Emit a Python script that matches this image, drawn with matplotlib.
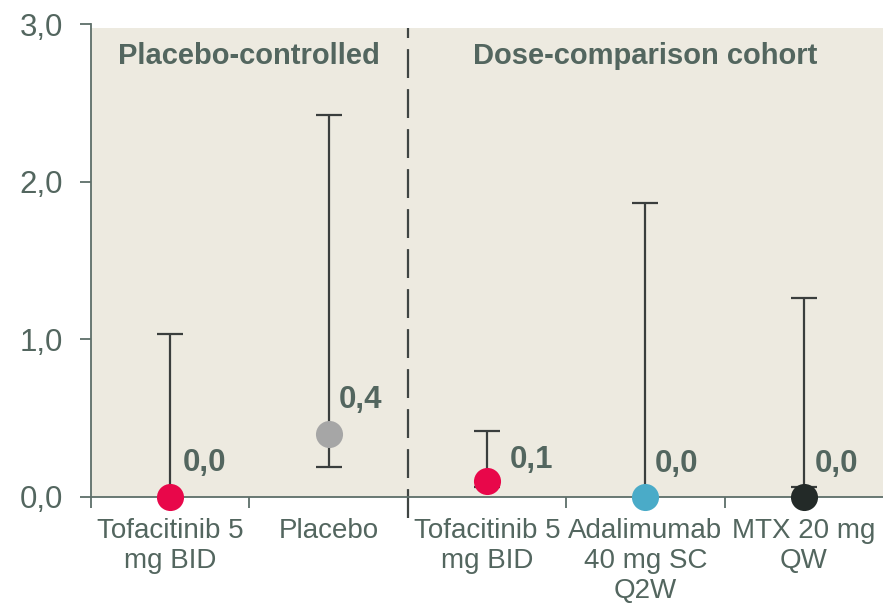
import matplotlib
matplotlib.use("Agg")
import matplotlib.pyplot as plt
from matplotlib.patches import Rectangle

plt.rcParams['font.family'] = ['Liberation Sans', 'DejaVu Sans']

# treatment arms and their point estimates with 95% CI
arms = ["Tofacitinib 5\nmg BID", "Placebo", "Tofacitinib 5\nmg BID",
        "Adalimumab\n40 mg SC\nQ2W", "MTX 20 mg\nQW"]
values = [0.0, 0.4, 0.1, 0.0, 0.0]
ci_low = [0.0, 0.19, 0.065, 0.0, 0.065]
ci_high = [1.034, 2.42, 0.42, 1.864, 1.262]
value_labels = ["0,0", "0,4", "0,1", "0,0", "0,0"]
dot_colors = ["#E8074A", "#A6A6A6", "#E8074A", "#4AABC8", "#232A28"]
groups = ["Placebo-controlled", "Dose-comparison cohort"]
yticks = [0, 1, 2, 3]
ytick_labels = ["0,0", "1,0", "2,0", "3,0"]

# per-label pixel offsets from the dot
label_offsets = [(13, 26), (10, 26), (23, 13), (9, 25), (11, 25)]

txt = "#53665F"
axis_col = "#5D6E69"
bar_col = "#3A3E3D"

fig = plt.figure(figsize=(8.83, 6.05), dpi=100)
ax = fig.add_axes([91 / 883, 1 - 497 / 605, 1 - 91 / 883, (497 - 24) / 605])
ax.set_facecolor("white")
ax.set_xlim(-0.5, 4.5)
ax.set_ylim(0, 3)

ax.add_patch(Rectangle((-0.5, 0), 5, 2.975, facecolor="#EDEAE0",
                       edgecolor="none", zorder=0))

x = list(range(len(arms)))
for i in x:
    # interval line with caps at both ends
    ax.plot([i, i], [ci_low[i], ci_high[i]], color=bar_col, lw=1.6,
            zorder=3, solid_capstyle="butt")
    caps = [ci_high[i]] if ci_low[i] == values[i] else [ci_low[i], ci_high[i]]
    ax.plot([i] * len(caps), caps, ls="none", marker="_", ms=19,
            mew=1.6, color=bar_col, zorder=3)
    ax.plot(i, values[i], "o", ms=19.5, color=dot_colors[i],
            mec="none", zorder=4, clip_on=False)
    ax.annotate(value_labels[i], (i, values[i]), xytext=label_offsets[i],
                textcoords="offset pixels", ha="left", va="baseline",
                fontsize=22.5, fontweight="bold", color=txt, zorder=5)

# divider between study groups
ax.plot([1.5, 1.5], [-0.135, 2.975], color="#3F4543", lw=1.6,
        dashes=(13, 5), zorder=2, clip_on=False)

ax.text(0.5, 2.8, groups[0], ha="center", va="center", fontsize=21,
        fontweight="bold", color=txt)
ax.text(3.0, 2.8, groups[1], ha="center", va="center", fontsize=21,
        fontweight="bold", color=txt)

ax.set_yticks(yticks)
ax.set_yticklabels(ytick_labels)
ax.set_xticks([-0.5, 0.5, 1.5, 2.5, 3.5])
ax.set_xticklabels([])
ax.set_xticks(x, minor=True)
ax.set_xticklabels(arms, minor=True)

ax.tick_params(axis="y", which="major", direction="out", length=8,
               width=1.3, color=axis_col, labelcolor=txt, labelsize=22.5,
               pad=12)
ax.tick_params(axis="x", which="major", direction="out", length=8,
               width=1.3, color=axis_col)
ax.tick_params(axis="x", which="minor", length=0, labelcolor=txt,
               labelsize=20, pad=15)
for lab in ax.get_xticklabels(minor=True):
    lab.set_linespacing(1.2)

for side in ["top", "right"]:
    ax.spines[side].set_visible(False)
for side in ["left", "bottom"]:
    ax.spines[side].set_color(axis_col)
    ax.spines[side].set_linewidth(1.3)

fig.savefig("out.png", dpi=100)
